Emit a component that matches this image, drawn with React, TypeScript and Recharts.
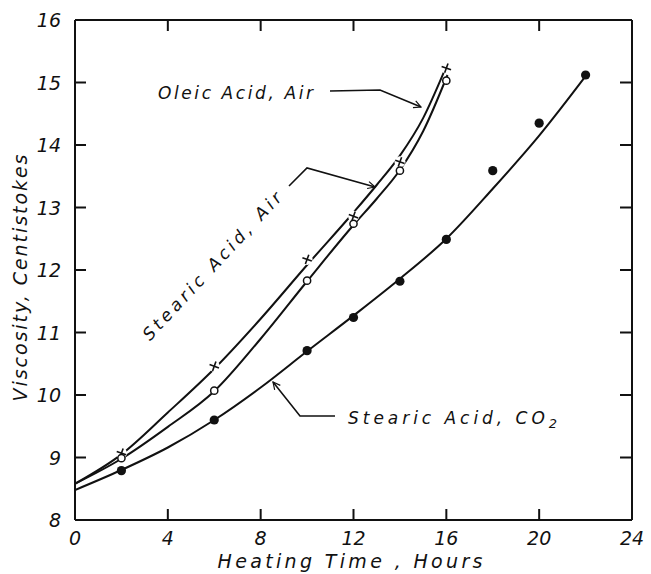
import React from 'react';
import { ComposedChart, Line, Scatter, XAxis, YAxis } from 'recharts';

// measured points
const oleicHours = [2, 6, 10, 12, 14, 16];
const oleicVisc = [9.07, 10.46, 12.17, 12.86, 13.73, 15.23];
const stearicAirHours = [2, 6, 10, 12, 14, 16];
const stearicAirVisc = [8.99, 10.07, 11.83, 12.74, 13.59, 15.03];
const co2Hours = [2, 6, 10, 12, 14, 16, 18, 20, 22];
const co2Visc = [8.79, 9.6, 10.71, 11.24, 11.82, 12.49, 13.59, 14.35, 15.12];

// drawn curves
const oleicCurveHours = [0, 2, 4, 6, 8, 10, 12, 13, 14, 15, 15.9];
const oleicCurveVisc = [8.58, 9.05, 9.72, 10.42, 11.22, 12.08, 12.92, 13.36, 13.83, 14.43, 15.17];
const stearicCurveHours = [0, 2, 4, 6, 8, 10, 12, 13, 14, 15, 16.05];
const stearicCurveVisc = [8.58, 8.98, 9.49, 10.06, 10.9, 11.82, 12.72, 13.14, 13.6, 14.22, 15.12];
const co2CurveHours = [0, 2, 4, 6, 8, 10, 12, 14, 16, 18, 20, 22.1];
const co2CurveVisc = [8.48, 8.8, 9.16, 9.6, 10.12, 10.7, 11.27, 11.86, 12.5, 13.3, 14.15, 15.15];

const xTicks = [0, 4, 8, 12, 16, 20, 24];
const yTicks = [8, 9, 10, 11, 12, 13, 14, 15, 16];

const zip = (hs: number[], vs: number[]) => hs.map((h, i) => ({ h, v: vs[i] }));

const FONT = '"DejaVu Sans", sans-serif';
const INK = '#111';

const BottomTick = (p: any) => (
  <g>
    {p.payload.value > 0 && p.payload.value < 24 && (
      <line x1={p.x} y1={p.y} x2={p.x} y2={p.y - 11} stroke={INK} strokeWidth={2} />
    )}
    <text x={p.x} y={p.y + 18} textAnchor="middle" dominantBaseline="central"
      fontFamily={FONT} fontStyle="italic" fontSize={19} fill={INK}>{p.payload.value}</text>
  </g>
);

const LeftTick = (p: any) => (
  <g>
    {p.payload.value > 8 && p.payload.value < 16 && (
      <line x1={p.x} y1={p.y} x2={p.x + 11} y2={p.y} stroke={INK} strokeWidth={2} />
    )}
    <text x={p.x - 14} y={p.y} textAnchor="end" dominantBaseline="central"
      fontFamily={FONT} fontStyle="italic" fontSize={19} fill={INK}>{p.payload.value}</text>
  </g>
);

const TopTick = (p: any) =>
  p.payload.value > 0 && p.payload.value < 24 ? (
    <line x1={p.x} y1={p.y} x2={p.x} y2={p.y + 11} stroke={INK} strokeWidth={2} />
  ) : <g />;

const RightTick = (p: any) =>
  p.payload.value > 8 && p.payload.value < 16 ? (
    <line x1={p.x} y1={p.y} x2={p.x - 12} y2={p.y} stroke={INK} strokeWidth={2} />
  ) : <g />;

const Cross = (p: any) => (
  <g transform={`translate(${p.cx},${p.cy}) rotate(20)`}>
    <circle r={5.5} fill="#fff" />
    <line x1={-5} y1={0} x2={5} y2={0} stroke={INK} strokeWidth={1.6} />
    <line x1={0} y1={-5} x2={0} y2={5} stroke={INK} strokeWidth={1.6} />
  </g>
);

const OpenDot = (p: any) => (
  <circle cx={p.cx} cy={p.cy} r={3.6} fill="#fff" stroke={INK} strokeWidth={1.5} />
);

const FilledDot = (p: any) => <circle cx={p.cx} cy={p.cy} r={4.6} fill={INK} />;

const txt = { fontFamily: FONT, fontStyle: 'italic' as const, fill: INK };
const axisStroke = { stroke: INK, strokeWidth: 2 };

export default function App() {
  return (
    <div style={{ position: 'absolute', left: 0, top: 0, width: 651, height: 574, background: '#fff' }}>
      <ComposedChart width={651} height={574} margin={{ top: 19, right: 18, bottom: 53, left: 74 }}>
        <XAxis xAxisId="b" dataKey="h" type="number" domain={[0, 24]} ticks={xTicks}
          height={1} tickLine={false} tickSize={0} tickMargin={0} interval={0}
          axisLine={axisStroke} tick={BottomTick} allowDataOverflow />
        <XAxis xAxisId="t" orientation="top" dataKey="h" type="number" domain={[0, 24]} ticks={xTicks}
          height={1} tickLine={false} tickSize={0} tickMargin={0} interval={0}
          axisLine={axisStroke} tick={TopTick} allowDataOverflow />
        <YAxis yAxisId="l" dataKey="v" type="number" domain={[8, 16]} ticks={yTicks}
          width={1} tickLine={false} tickSize={0} tickMargin={0} interval={0}
          axisLine={axisStroke} tick={LeftTick} allowDataOverflow />
        <YAxis yAxisId="r" orientation="right" dataKey="v" type="number" domain={[8, 16]} ticks={yTicks}
          width={1} tickLine={false} tickSize={0} tickMargin={0} interval={0}
          axisLine={axisStroke} tick={RightTick} allowDataOverflow />

        <Line xAxisId="b" yAxisId="l" data={zip(oleicCurveHours, oleicCurveVisc)} dataKey="v"
          type="monotone" stroke={INK} strokeWidth={2} dot={false} isAnimationActive={false} />
        <Scatter xAxisId="b" yAxisId="l" data={zip(oleicHours, oleicVisc)} dataKey="v"
          shape={Cross} isAnimationActive={false} />
        <Line xAxisId="b" yAxisId="l" data={zip(stearicCurveHours, stearicCurveVisc)} dataKey="v"
          type="monotone" stroke={INK} strokeWidth={2} dot={false} isAnimationActive={false} />
        <Line xAxisId="b" yAxisId="l" data={zip(co2CurveHours, co2CurveVisc)} dataKey="v"
          type="monotone" stroke={INK} strokeWidth={2} dot={false} isAnimationActive={false} />
        <Scatter xAxisId="b" yAxisId="l" data={zip(stearicAirHours, stearicAirVisc)} dataKey="v"
          shape={OpenDot} isAnimationActive={false} />
        <Scatter xAxisId="b" yAxisId="l" data={zip(co2Hours, co2Visc)} dataKey="v"
          shape={FilledDot} isAnimationActive={false} />
      </ComposedChart>

      <svg width={651} height={574} style={{ position: 'absolute', left: 0, top: 0, pointerEvents: 'none' }}>
        <defs>
          <marker id="arr" viewBox="0 0 10 10" refX={9} refY={5} markerWidth={9} markerHeight={9}
            orient="auto" markerUnits="userSpaceOnUse">
            <path d="M1,1 L9,5 L1,9" fill="none" stroke={INK} strokeWidth={1.3} />
          </marker>
        </defs>
        <text x={20} y={278} transform="rotate(-90 20 278)" textAnchor="middle" dominantBaseline="central"
          fontSize={19} textLength={247} {...txt}>Viscosity, Centistokes</text>
        <text x={350} y={561} textAnchor="middle" dominantBaseline="central"
          fontSize={19} textLength={265} {...txt}>Heating Time , Hours</text>

        <text x={158} y={99} fontSize={17} textLength={155} {...txt}>Oleic Acid, Air</text>
        <polyline points="330,91 380,90 421,107" fill="none" stroke={INK} strokeWidth={1.6} markerEnd="url(#arr)" />

        <text x={212} y={266} transform="rotate(-47 212 266)" textAnchor="middle" dominantBaseline="central"
          fontSize={17} textLength={195} {...txt}>Stearic Acid, Air</text>
        <polyline points="289,186 307,168 375,187" fill="none" stroke={INK} strokeWidth={1.6} markerEnd="url(#arr)" />

        <text x={348} y={424} fontSize={17} {...txt} textLength={209}>
          Stearic Acid, CO<tspan fontSize={13} dy={4}>2</tspan>
        </text>
        <polyline points="335,416 300,416 273,382" fill="none" stroke={INK} strokeWidth={1.6} markerEnd="url(#arr)" />
      </svg>
    </div>
  );
}
